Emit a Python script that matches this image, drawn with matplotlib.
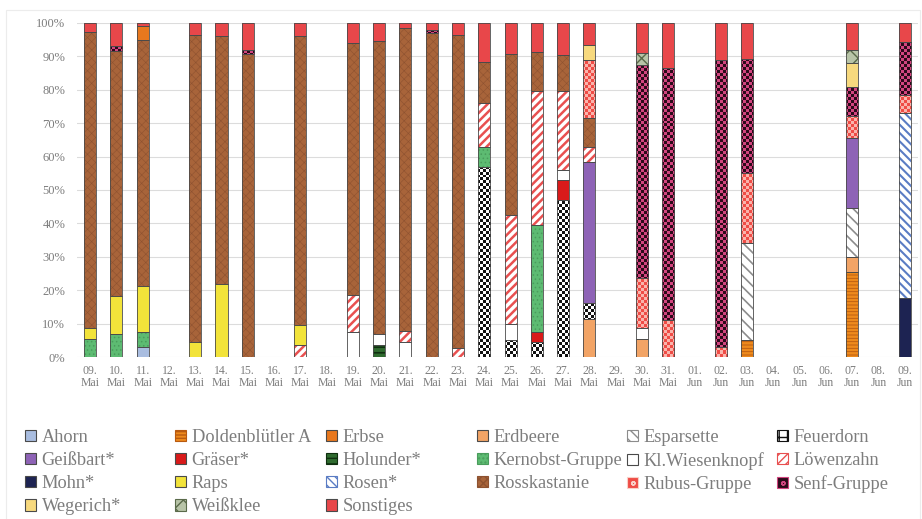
import matplotlib
matplotlib.use('Agg')
from matplotlib import pyplot as plt
from matplotlib.colors import ListedColormap
from matplotlib.patches import Patch, Rectangle
import numpy as np

plt.rcParams['font.family'] = ['Liberation Serif', 'DejaVu Serif']

DAYS = ['09', '10', '11', '12', '13', '14', '15', '16', '17', '18', '19', '20',
        '21', '22', '23', '24', '25', '26', '27', '28', '29', '30', '31',
        '01', '02', '03', '04', '05', '06', '07', '08', '09']
MONTHS = ['Mai'] * 23 + ['Jun'] * 9

# shares in percent per day, 09 Mai ... 09 Jun
ahorn = [0, 0, 3, 0, 0, 0, 0, 0, 0, 0, 0, 0, 0, 0, 0, 0,
         0, 0, 0, 0, 0, 0, 0, 0, 0, 0, 0, 0, 0, 0, 0, 0]
dolden = [0, 0, 0, 0, 0, 0, 0, 0, 0, 0, 0, 0, 0, 0, 0, 0,
          0, 0, 0, 0, 0, 0, 0, 0, 0, 5.1, 0, 0, 0, 25.4, 0, 0]
erbse = [0, 0, 4, 0, 0, 0, 0, 0, 0, 0, 0, 0, 0, 0, 0, 0,
         0, 0, 0, 0, 0, 0, 0, 0, 0, 0, 0, 0, 0, 0, 0, 0]
erdbeere = [0, 0, 0, 0, 0, 0, 0, 0, 0, 0, 0, 0, 0, 0, 0, 0,
            0, 0, 0, 11.4, 0, 5.4, 0, 0, 0, 0, 0, 0, 0, 4.6, 0, 0]
esparsette = [0, 0, 0, 0, 0, 0, 0, 0, 0, 0, 0, 0, 0, 0, 0, 0,
              0, 0, 0, 0, 0, 0, 0, 0, 0, 28.9, 0, 0, 0, 14.6, 0, 0]
feuerdorn = [0, 0, 0, 0, 0, 0, 0, 0, 0, 0, 0, 0, 0, 0, 0, 57,
             5, 4.5, 47, 4.8, 0, 0, 0, 0, 0, 0, 0, 0, 0, 0, 0, 0]
geissbart = [0, 0, 0, 0, 0, 0, 0, 0, 0, 0, 0, 0, 0, 0, 0, 0,
             0, 0, 0, 42.2, 0, 0, 0, 0, 0, 0, 0, 0, 0, 21, 0, 0]
graeser = [0, 0, 0, 0, 0, 0, 0, 0, 0, 0, 0, 0, 0, 0, 0, 0,
           0, 3, 6, 0, 0, 0, 0, 0, 0, 0, 0, 0, 0, 0, 0, 0]
holunder = [0, 0, 0, 0, 0, 0, 0, 0, 0, 0, 0, 3.6, 0, 0, 0, 0,
            0, 0, 0, 0, 0, 0, 0, 0, 0, 0, 0, 0, 0, 0, 0, 0]
kernobst = [5.5, 7, 4.5, 0, 0, 0, 0, 0, 0, 0, 0, 0, 0, 0, 0, 6,
            0, 32, 0, 0, 0, 0, 0, 0, 0, 0, 0, 0, 0, 0, 0, 0]
wiesenknopf = [0, 0, 0, 0, 0, 0, 0, 0, 0, 0, 7.5, 3.3, 4.5, 0, 0, 0,
               5, 0, 3, 0, 0, 3.3, 0, 0, 0, 0, 0, 0, 0, 0, 0, 0]
loewenzahn = [0, 0, 0, 0, 0, 0, 0, 0, 3.5, 0, 11, 0, 3.2, 0, 2.7, 13,
              32.5, 40, 23.6, 4.5, 0, 0, 0, 0, 0, 0, 0, 0, 0, 0, 0, 0]
mohn = [0, 0, 0, 0, 0, 0, 0, 0, 0, 0, 0, 0, 0, 0, 0, 0,
        0, 0, 0, 0, 0, 0, 0, 0, 0, 0, 0, 0, 0, 0, 0, 17.7]
raps = [3.2, 11.3, 13.8, 0, 4.5, 21.8, 0, 0, 6, 0, 0, 0, 0, 0, 0, 0,
        0, 0, 0, 0, 0, 0, 0, 0, 0, 0, 0, 0, 0, 0, 0, 0]
rosen = [0, 0, 0, 0, 0, 0, 0, 0, 0, 0, 0, 0, 0, 0, 0, 0,
         0, 0, 0, 0, 0, 0, 0, 0, 0, 0, 0, 0, 0, 0, 0, 55.3]
rosskastanie = [88.6, 73.2, 73.7, 0, 91.9, 74.4, 90.8, 0, 86.5, 0, 75.5, 87.6, 90.8, 97, 93.8, 12.2,
                48.2, 11.7, 10.8, 8.6, 0, 0, 0, 0, 0, 0, 0, 0, 0, 0, 0, 0]
rubus = [0, 0, 0, 0, 0, 0, 0, 0, 0, 0, 0, 0, 0, 0, 0, 0,
         0, 0, 0, 17.5, 0, 15, 11, 0, 3, 21, 0, 0, 0, 6.4, 0, 5.4]
senf = [0, 1.5, 0, 0, 0, 0, 1.2, 0, 0, 0, 0, 0, 0, 0.8, 0, 0,
        0, 0, 0, 0, 0, 63.7, 75.5, 0, 86, 34.2, 0, 0, 0, 8.8, 0, 16]
wegerich = [0, 0, 0, 0, 0, 0, 0, 0, 0, 0, 0, 0, 0, 0, 0, 0,
            0, 0, 0, 4.4, 0, 0, 0, 0, 0, 0, 0, 0, 0, 7.2, 0, 0]
weissklee = [0, 0, 0, 0, 0, 0, 0, 0, 0, 0, 0, 0, 0, 0, 0, 0,
             0, 0, 0, 0, 0, 3.6, 0, 0, 0, 0, 0, 0, 0, 4, 0, 0]
sonstiges = [2.7, 7, 1, 0, 3.6, 3.8, 8, 0, 4, 0, 6, 5.5, 1.5, 2.2, 3.5, 11.8,
             9.3, 8.8, 9.6, 6.6, 0, 9, 13.5, 0, 11, 10.8, 0, 0, 0, 8, 0, 5.6]

# name, values, facecolor, hatch, hatch colour, hatch linewidth (stacking order)
# hatch 'checker' is painted as a clipped two-colour checkerboard image
SERIES = [
    ('Ahorn', ahorn, '#a9bde0', '', '#a9bde0', 1.0),
    ('Doldenblütler A', dolden, '#ee8a1c', '-----', '#b85a10', 0.6),
    ('Erdbeere', erdbeere, '#f2a466', '', '#f2a466', 1.0),
    ('Esparsette', esparsette, '#ffffff', '\\\\\\', '#8c8c8c', 1.2),
    ('Feuerdorn', feuerdorn, '#ffffff', 'checker', '#111111', 1.0),
    ('Geißbart*', geissbart, '#8e63b6', '', '#8e63b6', 1.0),
    ('Gräser*', graeser, '#d91a1a', '', '#d91a1a', 1.0),
    ('Holunder*', holunder, '#2f6b2f', '---', '#0f2f0f', 1.2),
    ('Kernobst-Gruppe', kernobst, '#5dbb72', '....', '#4a9c5c', 0.6),
    ('Kl.Wiesenknopf', wiesenknopf, '#ffffff', '', '#ffffff', 1.0),
    ('Löwenzahn', loewenzahn, '#ffffff', '////', '#e85050', 1.8),
    ('Mohn*', mohn, '#1d2352', '', '#1d2352', 1.0),
    ('Raps', raps, '#f2e33a', '', '#f2e33a', 1.0),
    ('Rosen*', rosen, '#ffffff', '\\\\\\\\', '#5a7cc4', 1.5),
    ('Rosskastanie', rosskastanie, '#a8643a', 'xxxx', '#8e5230', 0.4),
    ('Erbse', erbse, '#e8781e', '', '#e8781e', 1.0),
    ('Rubus-Gruppe', rubus, '#ef4c46', 'checker', '#f9b4ac', 1.0),
    ('Senf-Gruppe', senf, '#2c0a1a', 'checker', '#d2457f', 1.0),
    ('Wegerich*', wegerich, '#f7d97e', '', '#f7d97e', 1.0),
    ('Weißklee', weissklee, '#b8c4a8', 'xx', '#5a6a4a', 1.0),
    ('Sonstiges', sonstiges, '#e8474a', '', '#e8474a', 1.0),
]

LEGEND_COLUMNS = [
    ['Ahorn', 'Geißbart*', 'Mohn*', 'Wegerich*'],
    ['Doldenblütler A', 'Gräser*', 'Raps', 'Weißklee'],
    ['Erbse', 'Holunder*', 'Rosen*', 'Sonstiges'],
    ['Erdbeere', 'Kernobst-Gruppe', 'Rosskastanie'],
    ['Esparsette', 'Kl.Wiesenknopf', 'Rubus-Gruppe'],
    ['Feuerdorn', 'Löwenzahn', 'Senf-Gruppe'],
]

TEXT_GREY = '#7d7d7d'


def checker_image(ncols, nrows):
    ii, jj = np.indices((nrows, ncols))
    return ((ii + jj) % 2).astype(float)


def plot_pollen_shares():
    fig = plt.figure(figsize=(9.22, 5.19), dpi=100)
    ax = fig.add_axes([0.0835, 0.312, 0.912, 0.644])

    x = np.arange(len(DAYS))
    bottom = np.zeros(len(DAYS))
    width = 0.46
    checker = checker_image(9 * len(DAYS), 112)
    for name, values, face, hatch, hcolor, hlw in SERIES:
        values = np.asarray(values, dtype=float)
        keep = values > 0
        if keep.any():
            if hatch == 'checker':
                bars = ax.bar(x[keep], values[keep], width, bottom=bottom[keep],
                              color=face, linewidth=0, zorder=2)
                cmap = ListedColormap([face, hcolor])
                for patch in bars:
                    im = ax.imshow(checker, cmap=cmap, vmin=0, vmax=1,
                                   extent=(-0.5, len(DAYS) - 0.5, 0, 100),
                                   origin='lower', interpolation='nearest',
                                   aspect='auto', zorder=2.5)
                    im.set_clip_path(patch)
            else:
                with plt.rc_context({'hatch.linewidth': hlw}):
                    ax.bar(x[keep], values[keep], width, bottom=bottom[keep],
                           color=face, edgecolor=hcolor, linewidth=0, hatch=hatch, zorder=2)
            ax.bar(x[keep], values[keep], width, bottom=bottom[keep],
                   fill=False, edgecolor='#4a4a4a', linewidth=0.6, zorder=3)
        bottom += values

    ax.set_xlim(-0.5, len(DAYS) - 0.5)
    ax.set_ylim(0, 100)
    ax.set_yticks(np.arange(0, 101, 10))
    ax.set_yticklabels(['{}%'.format(v) for v in range(0, 101, 10)])
    ax.set_xticks(x)
    ax.set_xticklabels(['{}.\n{}'.format(d, m) for d, m in zip(DAYS, MONTHS)],
                       linespacing=1.0)
    ax.tick_params(axis='both', length=0, labelcolor=TEXT_GREY)
    ax.tick_params(axis='y', pad=8.5, labelsize=9)
    ax.tick_params(axis='x', pad=6, labelsize=8.5)
    ax.grid(axis='y', color='#dcdcdc', linewidth=0.8, zorder=0)
    ax.set_axisbelow(True)
    for side in ('top', 'right', 'left', 'bottom'):
        ax.spines[side].set_visible(False)

    styles = {s[0]: s for s in SERIES}
    legend_hatch = {'Feuerdorn': ('#ffffff', '++', '#111111', 2.0),
                    'Rubus-Gruppe': ('#ef4c46', 'oo', '#f9d0c8', 1.0),
                    'Senf-Gruppe': ('#2c0a1a', 'oo', '#d2457f', 1.0)}
    col_x = [25, 175, 326, 477, 627, 777]
    for cx, names in zip(col_x, LEGEND_COLUMNS):
        handles = []
        for name in names:
            _, _, face, hatch, hcolor, hlw = styles[name]
            if name in legend_hatch:
                face, hatch, hcolor, hlw = legend_hatch[name]
            edge = hcolor if hatch else '#4a4a4a'
            with plt.rc_context({'hatch.linewidth': hlw}):
                handles.append(Patch(facecolor=face, edgecolor=edge, hatch=hatch,
                                     linewidth=0.8, label=name))
        fig.legend(handles=handles, loc='upper left',
                   bbox_to_anchor=(cx / 922, 1 - 429 / 519),
                   frameon=False, fontsize=13.2, labelcolor=TEXT_GREY,
                   handlelength=0.6, handleheight=0.6, handletextpad=0.3,
                   labelspacing=0.33, borderpad=0, borderaxespad=0)

    fig.add_artist(Rectangle((6 / 922, -0.02), 914 / 922, 1.0, transform=fig.transFigure,
                             fill=False, edgecolor='#ececec', linewidth=0.8))

    fig.savefig('out.png', dpi=100)


if __name__ == '__main__':
    plot_pollen_shares()
